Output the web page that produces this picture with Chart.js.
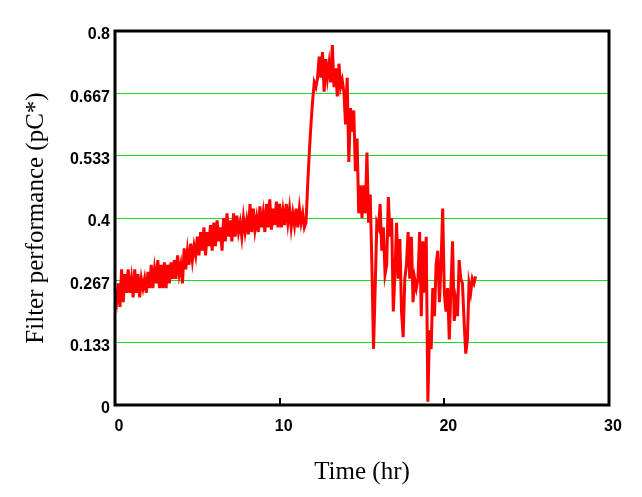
<!DOCTYPE html>
<html>
<head>
<meta charset="utf-8">
<script src="https://cdn.jsdelivr.net/npm/chart.js@4/dist/chart.umd.min.js"></script>
<style>
  html, body { margin: 0; padding: 0; background: #fff; }
  canvas { display: block; }
</style>
</head>
<body>
<canvas id="perfChart" width="642" height="497"></canvas>
<script>
// time axis: one reading every 0.1 hr, starting at 0
const timeStep = 0.1;
// filter performance (pC*)
const filterPerf = [
  0.24, 0.22, 0.26, 0.21, 0.29, 0.22, 0.28, 0.24, 0.29, 0.24,
  0.27, 0.23, 0.29, 0.24, 0.28, 0.23, 0.27, 0.25, 0.27, 0.24,
  0.285, 0.25, 0.30, 0.25, 0.29, 0.26, 0.31, 0.25, 0.30, 0.25,
  0.305, 0.25, 0.30, 0.26, 0.305, 0.27, 0.31, 0.27, 0.32, 0.28,
  0.30, 0.26, 0.335, 0.29, 0.33, 0.30, 0.345, 0.31, 0.34, 0.32,
  0.36, 0.32, 0.37, 0.33, 0.38, 0.32, 0.37, 0.34, 0.385, 0.33,
  0.39, 0.34, 0.395, 0.35, 0.38, 0.33, 0.40, 0.35, 0.41, 0.36,
  0.395, 0.35, 0.41, 0.36, 0.405, 0.37, 0.39, 0.36, 0.40, 0.37,
  0.395, 0.365, 0.43, 0.37, 0.42, 0.375, 0.40, 0.37, 0.425, 0.38,
  0.41, 0.37, 0.43, 0.38, 0.44, 0.375, 0.42, 0.385, 0.435, 0.38,
  0.43, 0.38, 0.415, 0.385, 0.43, 0.39, 0.42, 0.38, 0.41, 0.385,
  0.42, 0.38, 0.42, 0.39, 0.41, 0.38, 0.39, 0.47, 0.54, 0.60,
  0.65, 0.69, 0.68, 0.70, 0.745, 0.70, 0.755, 0.67, 0.74, 0.70,
  0.73, 0.69, 0.77, 0.68, 0.72, 0.66, 0.73, 0.68, 0.695, 0.67,
  0.60, 0.70, 0.52, 0.635, 0.585, 0.63, 0.50, 0.57, 0.41, 0.47,
  0.40, 0.47, 0.41, 0.54, 0.39, 0.45, 0.30, 0.12, 0.25, 0.39,
  0.38, 0.43, 0.33, 0.38, 0.28, 0.30, 0.445, 0.36, 0.40, 0.20,
  0.28, 0.39, 0.27, 0.355, 0.20, 0.145, 0.27, 0.30, 0.37, 0.27,
  0.36, 0.22, 0.27, 0.25, 0.27, 0.37, 0.19, 0.35, 0.24, 0.36,
  0.007, 0.16, 0.12, 0.25, 0.19, 0.30, 0.33, 0.22, 0.30, 0.42,
  0.24, 0.20, 0.25, 0.14, 0.25, 0.35, 0.18, 0.22, 0.19, 0.31,
  0.27, 0.26, 0.18, 0.11, 0.14, 0.26, 0.24, 0.27, 0.26, 0.275
];
const yTickValues = [0, 0.8 / 6, 1.6 / 6, 0.4, 3.2 / 6, 4 / 6, 0.8];
const yTickLabels = ['0', '0.133', '0.267', '0.4', '0.533', '0.667', '0.8'];
const xMin = 0, xMax = 30, xStep = 10;

const points = filterPerf.map((v, i) => ({x: +(i * timeStep).toFixed(2), y: v}));

const GRID_GREEN = 'rgb(20, 225, 20)';
const tickFont = {family: '"Liberation Sans", Arial, sans-serif', size: 16, weight: 'bold'};
const titleFont = {family: '"Liberation Serif", "Times New Roman", serif', size: 25};

// frame round the plot and small inward ticks on the time axis
const framePlugin = {
  id: 'frame',
  afterDraw(chart) {
    const {ctx, chartArea: a} = chart;
    const xs = chart.scales.x;
    ctx.save();
    ctx.strokeStyle = '#000';
    ctx.lineWidth = 2;
    xs.ticks.forEach(t => {
      if (t.value <= xMin || t.value >= xMax) return;
      const px = Math.round(xs.getPixelForValue(t.value));
      ctx.beginPath();
      ctx.moveTo(px, a.bottom);
      ctx.lineTo(px, a.bottom - 7);
      ctx.stroke();
    });
    ctx.lineWidth = 3;
    ctx.strokeRect(a.left, a.top, a.right - a.left, a.bottom - a.top);
    ctx.restore();
  }
};

new Chart(document.getElementById('perfChart').getContext('2d'), {
  type: 'line',
  data: {
    datasets: [{
      data: points,
      borderColor: '#ff0000',
      borderWidth: 3,
      pointRadius: 0,
      tension: 0,
      fill: false
    }]
  },
  options: {
    responsive: false,
    animation: false,
    layout: {padding: {top: 31, right: 33, left: 0, bottom: 0}},
    plugins: {legend: {display: false}, tooltip: {enabled: false}},
    scales: {
      x: {
        type: 'linear',
        min: xMin,
        max: xMax,
        afterFit: s => { s.height = 92; },
        grid: {display: false},
        border: {display: false},
        ticks: {stepSize: xStep, color: '#000', font: tickFont, padding: 4, labelOffset: 4, maxRotation: 0},
        title: {display: true, text: 'Time (hr)', color: '#000', font: titleFont, padding: {top: 0, bottom: 10}}
      },
      y: {
        min: 0,
        max: 0.8,
        afterFit: s => { s.width = 115; },
        afterBuildTicks: s => { s.ticks = yTickValues.map(v => ({value: v})); },
        grid: {
          drawTicks: false,
          lineWidth: 1,
          color: c => (c.index === 0 || c.index === yTickValues.length - 1) ? 'rgba(0,0,0,0)' : GRID_GREEN
        },
        border: {display: false},
        ticks: {
          color: '#000',
          font: tickFont,
          padding: 5,
          labelOffset: 4,
          callback: (v, i) => yTickLabels[i]
        },
        title: {display: true, text: 'Filter performance (pC*)', color: '#000', font: titleFont, padding: {top: 21, bottom: 0}}
      }
    }
  },
  plugins: [framePlugin]
});
</script>
</body>
</html>
